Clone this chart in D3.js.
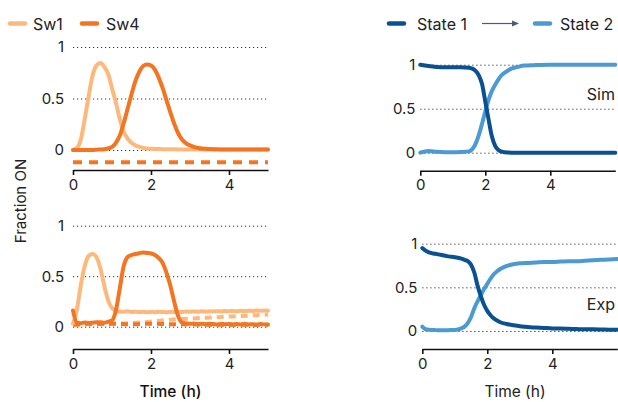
<!DOCTYPE html>
<html>
<head>
<meta charset="utf-8">
<script src="https://cdn.jsdelivr.net/npm/d3@7"></script>
<style>
  body { margin: 0; background: #fff; }
  svg { display: block; font-family: Inter, 'Noto Sans', sans-serif; }
  .tick text { font-size: 15px; fill: #222; font-family: Inter, sans-serif; }
  .grid line { stroke: #333; stroke-width: 1; stroke-dasharray: 1.2, 2.8; }
  .grid .domain { display: none; }
  .xaxis .domain, .xaxis line { stroke: #111; stroke-width: 1.6; }
  .line { fill: none; stroke-width: 4; stroke-linecap: round; stroke-linejoin: round; }
</style>
</head>
<body>
<script>
const W = 618, H = 402;

const colors = { sw1: '#fdb97b', sw4: '#f37521', state1: '#0a5192', state2: '#4d9ad3' };

// --- simulated switches (top left)
const simSwTime = [0, 0.1, 0.2, 0.3, 0.4, 0.5, 0.6, 0.7, 0.8, 0.9, 1.0, 1.1, 1.2, 1.3, 1.4, 1.5, 1.6, 1.7, 1.8, 1.9,
    2.0, 2.1, 2.2, 2.3, 2.4, 2.5, 2.6, 2.7, 2.8, 2.9, 3.0, 3.2, 3.4, 3.6, 4.0, 4.5, 5.0];
const simSw1 = [0, 0.02, 0.1, 0.3, 0.52, 0.72, 0.82, 0.845, 0.81, 0.74, 0.6, 0.46, 0.3, 0.18, 0.11, 0.07, 0.045, 0.03, 0.02, 0.015,
    0.012, 0.01, 0.01, 0.008, 0.008, 0.007, 0.007, 0.006, 0.006, 0.006, 0.005, 0.005, 0.005, 0.005, 0.005, 0.005, 0.005];
const simSw4 = [0, 0, 0, 0, 0, 0, 0.003, 0.005, 0.008, 0.015, 0.03, 0.07, 0.14, 0.26, 0.4, 0.54, 0.67, 0.76, 0.815, 0.83,
    0.82, 0.78, 0.7, 0.6, 0.48, 0.36, 0.25, 0.16, 0.1, 0.065, 0.045, 0.02, 0.012, 0.008, 0.005, 0.005, 0.005];
const simSw4Off = [-0.12, -0.12];
const simSwOffTime = [0, 5];

// --- measured switches (bottom left)
const expSwTime = [0, 0.1, 0.2, 0.3, 0.4, 0.5, 0.6, 0.7, 0.8, 0.9, 1.0, 1.1, 1.2, 1.3, 1.4, 1.5, 1.6, 1.7, 1.8, 1.9,
    2.0, 2.1, 2.2, 2.3, 2.4, 2.5, 2.6, 2.7, 2.8, 2.9, 3.0, 3.1, 3.2, 3.3, 3.4, 3.5, 3.6, 3.7, 3.8, 3.9,
    4.0, 4.1, 4.2, 4.3, 4.4, 4.5, 4.6, 4.7, 4.8, 4.9, 5.0];
const expSw1 = [0.03, 0.17, 0.41, 0.6, 0.7, 0.72, 0.69, 0.58, 0.41, 0.26, 0.185, 0.158, 0.15, 0.148, 0.152, 0.146, 0.149, 0.145, 0.147, 0.143,
    0.146, 0.144, 0.148, 0.145, 0.143, 0.147, 0.145, 0.149, 0.146, 0.15, 0.148, 0.151, 0.149, 0.153, 0.15, 0.152, 0.15, 0.154, 0.151, 0.155,
    0.153, 0.156, 0.152, 0.157, 0.155, 0.158, 0.156, 0.16, 0.157, 0.161, 0.158];
const expSw4 = [0.16, 0.04, 0.035, 0.042, 0.036, 0.04, 0.043, 0.045, 0.04, 0.05, 0.062, 0.16, 0.38, 0.6, 0.69, 0.71, 0.72, 0.728, 0.735, 0.73,
    0.725, 0.71, 0.68, 0.63, 0.53, 0.4, 0.24, 0.1, 0.04, 0.033, 0.028, 0.031, 0.025, 0.029, 0.024, 0.03, 0.026, 0.022, 0.028, 0.024,
    0.027, 0.021, 0.026, 0.023, 0.028, 0.022, 0.025, 0.02, 0.026, 0.023, 0.021];
const expOffTime = [0, 0.5, 1, 1.5, 2, 2.5, 3, 3.5, 4, 4.5, 5];
const expSw1Off = [0.02, 0.025, 0.03, 0.035, 0.05, 0.07, 0.08, 0.09, 0.1, 0.11, 0.12];
const expSw4Off = [0.02, 0.03, 0.03, 0.025, 0.03, 0.025, 0.025, 0.02, 0.02, 0.02, 0.02];

// --- simulated states (top right)
const simStTime = [0, 0.25, 0.5, 0.75, 1.0, 1.25, 1.5, 1.6, 1.7, 1.8, 1.9, 2.0, 2.1, 2.2, 2.3, 2.4, 2.5, 2.6, 2.7, 2.8,
    3.0, 3.2, 3.5, 4.0, 5.0, 6.0];
const simState1 = [1.0, 0.985, 0.975, 0.97, 0.97, 0.97, 0.965, 0.955, 0.93, 0.88, 0.78, 0.58, 0.38, 0.19, 0.08, 0.03, 0.012, 0.005, 0.002, 0,
    0, 0, 0, 0, 0, 0];
const simState2 = [0, 0.02, 0.01, 0.005, 0.005, 0.008, 0.015, 0.04, 0.1, 0.2, 0.33, 0.47, 0.6, 0.7, 0.77, 0.83, 0.88, 0.91, 0.935, 0.955,
    0.975, 0.99, 0.995, 1.0, 1.0, 1.0];

// --- measured states (bottom right)
const expStTime = [0, 0.1, 0.2, 0.4, 0.6, 0.8, 1.0, 1.2, 1.3, 1.4, 1.5, 1.6, 1.7, 1.8, 1.9, 2.0, 2.1, 2.2, 2.3, 2.4,
    2.6, 2.8, 3.0, 3.25, 3.5, 3.75, 4.0, 4.25, 4.5, 4.75, 5.0, 5.25, 5.5, 5.75, 6.0];
const expState1 = [0.95, 0.92, 0.9, 0.885, 0.87, 0.855, 0.845, 0.83, 0.815, 0.8, 0.76, 0.67, 0.52, 0.4, 0.3, 0.23, 0.18, 0.145, 0.12, 0.1,
    0.08, 0.065, 0.055, 0.045, 0.04, 0.035, 0.03, 0.028, 0.025, 0.022, 0.02, 0.02, 0.018, 0.015, 0.015];
const expState2 = [0.05, 0.02, 0.015, 0.01, 0.008, 0.01, 0.012, 0.03, 0.05, 0.09, 0.16, 0.26, 0.34, 0.41, 0.48, 0.54, 0.6, 0.65, 0.685, 0.71,
    0.745, 0.765, 0.775, 0.78, 0.785, 0.79, 0.79, 0.795, 0.8, 0.8, 0.805, 0.81, 0.815, 0.82, 0.825];

const xTicks = [0, 2, 4];
const yTicks = [0, 0.5, 1];

const svg = d3.select('body').append('svg')
    .attr('width', W)
    .attr('height', H);

// panel geometry
const panels = [
    { xr: [73, 268], xMax: 5, yr: [150, 47], axisY: 170, pad: 9 },
    { xr: [73, 268], xMax: 5, yr: [326.7, 225.7], axisY: 349, pad: 9 },
    { xr: [420.3, 615.3], xMax: 6, yr: [152.7, 64.7], axisY: 170.7, pad: 5 },
    { xr: [422.3, 617.3], xMax: 6, yr: [331, 243.7], axisY: 349, pad: 5 }
];

panels.forEach(p => {
    p.x = d3.scaleLinear().domain([0, p.xMax]).range(p.xr);
    p.y = d3.scaleLinear().domain([0, 1]).range(p.yr);

    // gridlines
    svg.append('g')
        .attr('class', 'grid')
        .attr('transform', 'translate(' + p.xr[0] + ',0)')
        .call(d3.axisLeft(p.y).tickValues(yTicks).tickSize(-(p.xr[1] - p.xr[0])).tickFormat(''));

    // y labels
    const ya = svg.append('g')
        .attr('transform', 'translate(' + p.xr[0] + ',0)')
        .call(d3.axisLeft(p.y).tickValues(yTicks).tickSize(0).tickPadding(p.pad).tickFormat(d3.format('~g')));
    ya.select('.domain').remove();

    // x axis
    svg.append('g')
        .attr('class', 'xaxis')
        .attr('transform', 'translate(0,' + p.axisY + ')')
        .call(d3.axisBottom(p.x).tickValues(xTicks).tickSize(5).tickSizeOuter(0).tickPadding(4).tickFormat(d3.format('d')));
});

function draw (p, times, vals, color, dash) {
    const line = d3.line()
        .x((d, i) => p.x(times[i]))
        .y(d => p.y(d))
        .curve(d3.curveMonotoneX);
    const path = svg.append('path')
        .attr('class', 'line')
        .attr('d', line(vals))
        .style('stroke', color);
    if (dash) {
        path.style('stroke-dasharray', dash).style('stroke-linecap', 'butt');
    }
}

// top left
draw(panels[0], simSwOffTime, simSw4Off, colors.sw4, '9,7');
draw(panels[0], simSwTime, simSw1, colors.sw1);
draw(panels[0], simSwTime, simSw4, colors.sw4);

// bottom left
draw(panels[1], expOffTime, expSw1Off, colors.sw1, '7,5');
draw(panels[1], expOffTime, expSw4Off, colors.sw4, '7,5');
draw(panels[1], expSwTime, expSw1, colors.sw1);
draw(panels[1], expSwTime, expSw4, colors.sw4);

// top right
draw(panels[2], simStTime, simState2, colors.state2);
draw(panels[2], simStTime, simState1, colors.state1);

// bottom right
draw(panels[3], expStTime, expState2, colors.state2);
draw(panels[3], expStTime, expState1, colors.state1);

// panel tags
svg.append('text').attr('x', 615).attr('y', 100).attr('text-anchor', 'end')
    .style('font-size', '16px').style('fill', '#222').text('Sim');
svg.append('text').attr('x', 615).attr('y', 310).attr('text-anchor', 'end')
    .style('font-size', '16px').style('fill', '#222').text('Exp');

// axis titles
svg.append('text')
    .attr('transform', 'translate(26,201) rotate(-90)')
    .attr('text-anchor', 'middle')
    .style('font-size', '15px').style('fill', '#222')
    .text('Fraction ON');
svg.append('text')
    .attr('x', 170.5).attr('y', 397).attr('text-anchor', 'middle')
    .style('font-size', '15.5px').style('font-weight', 500).style('fill', '#111')
    .text('Time (h)');
svg.append('text')
    .attr('x', 515).attr('y', 397).attr('text-anchor', 'middle')
    .style('font-size', '15.5px').style('fill', '#222')
    .text('Time (h)');

// legends
const legendItems = [
    { x: 8, tx: 33, label: 'Sw1', color: colors.sw1 },
    { x: 80, tx: 106, label: 'Sw4', color: colors.sw4 },
    { x: 387, tx: 417, label: 'State 1', color: colors.state1 },
    { x: 533, tx: 560, label: 'State 2', color: colors.state2 }
];
const legend = svg.append('g').attr('class', 'legend');
legend.selectAll('line')
    .data(legendItems)
    .enter().append('line')
    .attr('x1', d => d.x + 2).attr('x2', d => d.x + 17)
    .attr('y1', 23.5).attr('y2', 23.5)
    .style('stroke', d => d.color).style('stroke-width', 4.5).style('stroke-linecap', 'round');
legend.selectAll('text')
    .data(legendItems)
    .enter().append('text')
    .attr('x', d => d.tx).attr('y', 29.5)
    .style('font-size', '16px').style('fill', '#222')
    .text(d => d.label);

// arrow State 1 -> State 2
legend.append('line')
    .attr('x1', 482).attr('x2', 514).attr('y1', 23.5).attr('y2', 23.5)
    .style('stroke', '#4a5a78').style('stroke-width', 1.2);
legend.append('path')
    .attr('d', 'M519,23.5L512,20.5L512,26.5Z')
    .style('fill', '#4a5a78');
</script>
</body>
</html>
